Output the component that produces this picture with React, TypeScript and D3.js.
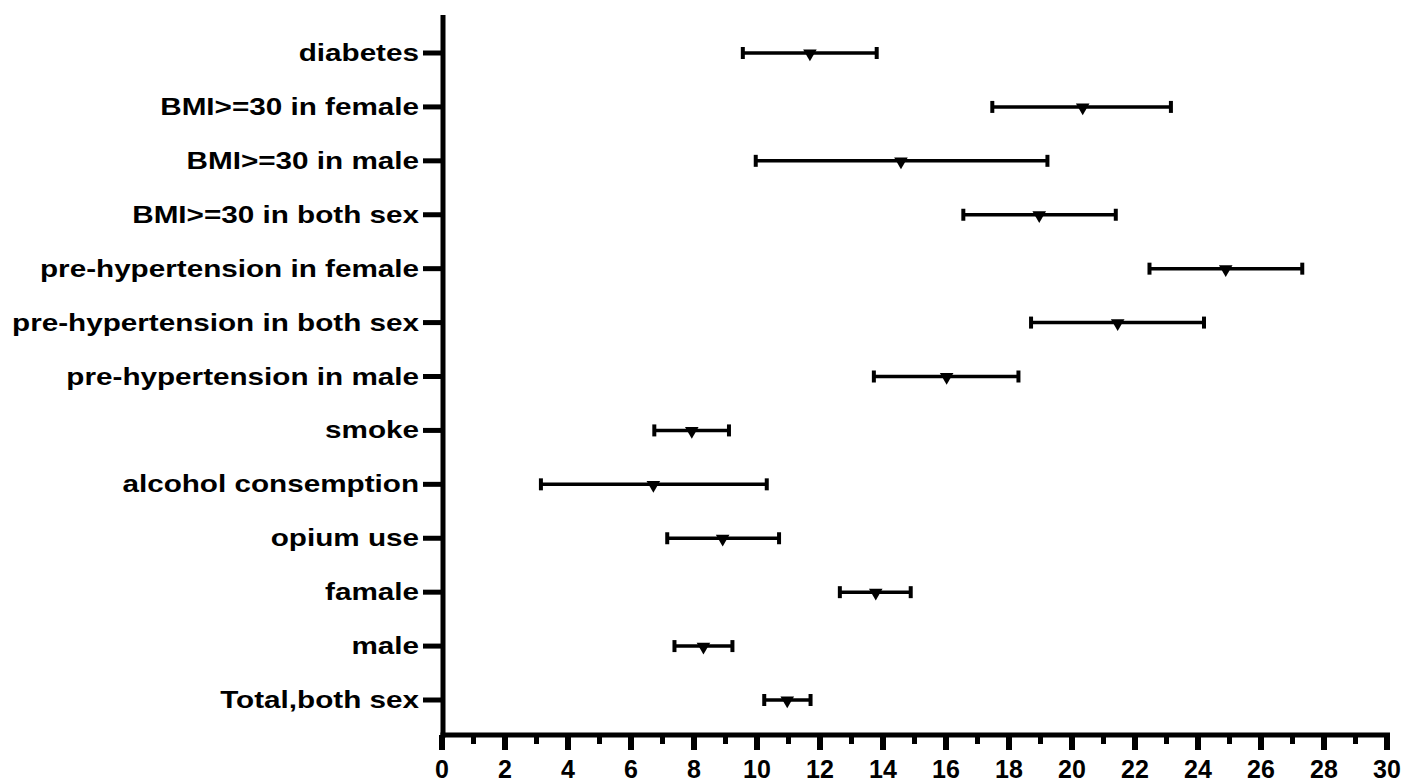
import React, { useEffect, useRef } from 'react';
import * as d3 from 'd3';

const categories = [
	'diabetes',
	'BMI>=30 in female',
	'BMI>=30 in male',
	'BMI>=30 in both sex',
	'pre-hypertension in female',
	'pre-hypertension in both sex',
	'pre-hypertension in male',
	'smoke',
	'alcohol consemption',
	'opium use',
	'famale',
	'male',
	'Total,both sex',
];
const estimate = [11.68, 20.34, 14.57, 18.96, 24.88, 21.45, 16.02, 7.93, 6.71, 8.91, 13.77, 8.3, 10.96];
const lower = [9.55, 17.47, 9.96, 16.55, 22.46, 18.7, 13.71, 6.74, 3.14, 7.15, 12.63, 7.38, 10.23];
const upper = [13.8, 23.14, 19.22, 21.39, 27.31, 24.19, 18.3, 9.11, 10.31, 10.7, 14.88, 9.22, 11.7];
const majorTicks = d3.range(0, 31, 2);
const minorTicks = d3.range(1, 30, 2);

const width = 1408;
const height = 782;
const font = 'Liberation Sans, Arial, sans-serif';

const drawChart = (node) => {
	const svg = d3.select(node);
	svg.selectAll('*').remove();

	const x = d3.scaleLinear().domain([0, 30]).range([442, 1387]);
	const y = d3.scalePoint().domain(categories).range([53, 700]);
	const axisY = 735;
	const axisX = 443;

	const rows = categories.map((c, i) => ({
		c, est: estimate[i], lo: lower[i], hi: upper[i],
	}));

	// y axis
	svg.append('line')
		.attr('x1', axisX).attr('x2', axisX)
		.attr('y1', 15).attr('y2', axisY + 2.5)
		.attr('stroke', '#000').attr('stroke-width', 5);

	const yTicks = svg.append('g');
	yTicks.selectAll('line')
		.data(categories)
		.join('line')
		.attr('x1', axisX - 20).attr('x2', axisX)
		.attr('y1', (d) => y(d)).attr('y2', (d) => y(d))
		.attr('stroke', '#000').attr('stroke-width', 5);

	yTicks.selectAll('text')
		.data(categories)
		.join('text')
		.attr('transform', (d) => `translate(419, ${ y(d) + 8 }) scale(1.29, 1)`)
		.attr('text-anchor', 'end')
		.attr('font-family', font)
		.attr('font-weight', 'bold')
		.attr('font-size', 23)
		.attr('fill', '#000')
		.text((d) => d);

	// x axis
	svg.append('line')
		.attr('x1', axisX - 2.5).attr('x2', x(30) + 3)
		.attr('y1', axisY).attr('y2', axisY)
		.attr('stroke', '#000').attr('stroke-width', 5);

	const xAxis = svg.append('g');
	xAxis.selectAll('line.major')
		.data(majorTicks)
		.join('line')
		.attr('class', 'major')
		.attr('x1', (d) => x(d)).attr('x2', (d) => x(d))
		.attr('y1', axisY).attr('y2', axisY + 15)
		.attr('stroke', '#000').attr('stroke-width', 6);

	xAxis.selectAll('line.minor')
		.data(minorTicks)
		.join('line')
		.attr('class', 'minor')
		.attr('x1', (d) => x(d)).attr('x2', (d) => x(d))
		.attr('y1', axisY).attr('y2', axisY + 9)
		.attr('stroke', '#000').attr('stroke-width', 5);

	xAxis.selectAll('text')
		.data(majorTicks)
		.join('text')
		.attr('x', (d) => x(d))
		.attr('y', 778)
		.attr('text-anchor', 'middle')
		.attr('font-family', font)
		.attr('font-weight', 'bold')
		.attr('font-size', 25)
		.attr('fill', '#000')
		.text((d) => d);

	// error bars
	const bars = svg.append('g')
		.selectAll('g')
		.data(rows)
		.join('g');

	bars.append('line')
		.attr('x1', (d) => x(d.lo)).attr('x2', (d) => x(d.hi))
		.attr('y1', (d) => y(d.c)).attr('y2', (d) => y(d.c))
		.attr('stroke', '#000').attr('stroke-width', 3.5);

	bars.append('line')
		.attr('x1', (d) => x(d.lo)).attr('x2', (d) => x(d.lo))
		.attr('y1', (d) => y(d.c) - 6).attr('y2', (d) => y(d.c) + 6)
		.attr('stroke', '#000').attr('stroke-width', 4);

	bars.append('line')
		.attr('x1', (d) => x(d.hi)).attr('x2', (d) => x(d.hi))
		.attr('y1', (d) => y(d.c) - 6).attr('y2', (d) => y(d.c) + 6)
		.attr('stroke', '#000').attr('stroke-width', 4);

	const tri = d3.symbol().type(d3.symbolTriangle)
		.size(80);

	bars.append('path')
		.attr('d', tri)
		.attr('transform', (d) => `translate(${ x(d.est) }, ${ y(d.c) + 0.5 }) rotate(180)`)
		.attr('fill', '#000');
};

const App = () => {
	const ref = useRef(null);

	useEffect(() => drawChart(ref.current), []);

	return (
		<svg ref={ ref } width={ width } height={ height }
			style={ { position: 'absolute', left: 0, top: 0, background: '#fff' } }/>
	);
};

export default App;
